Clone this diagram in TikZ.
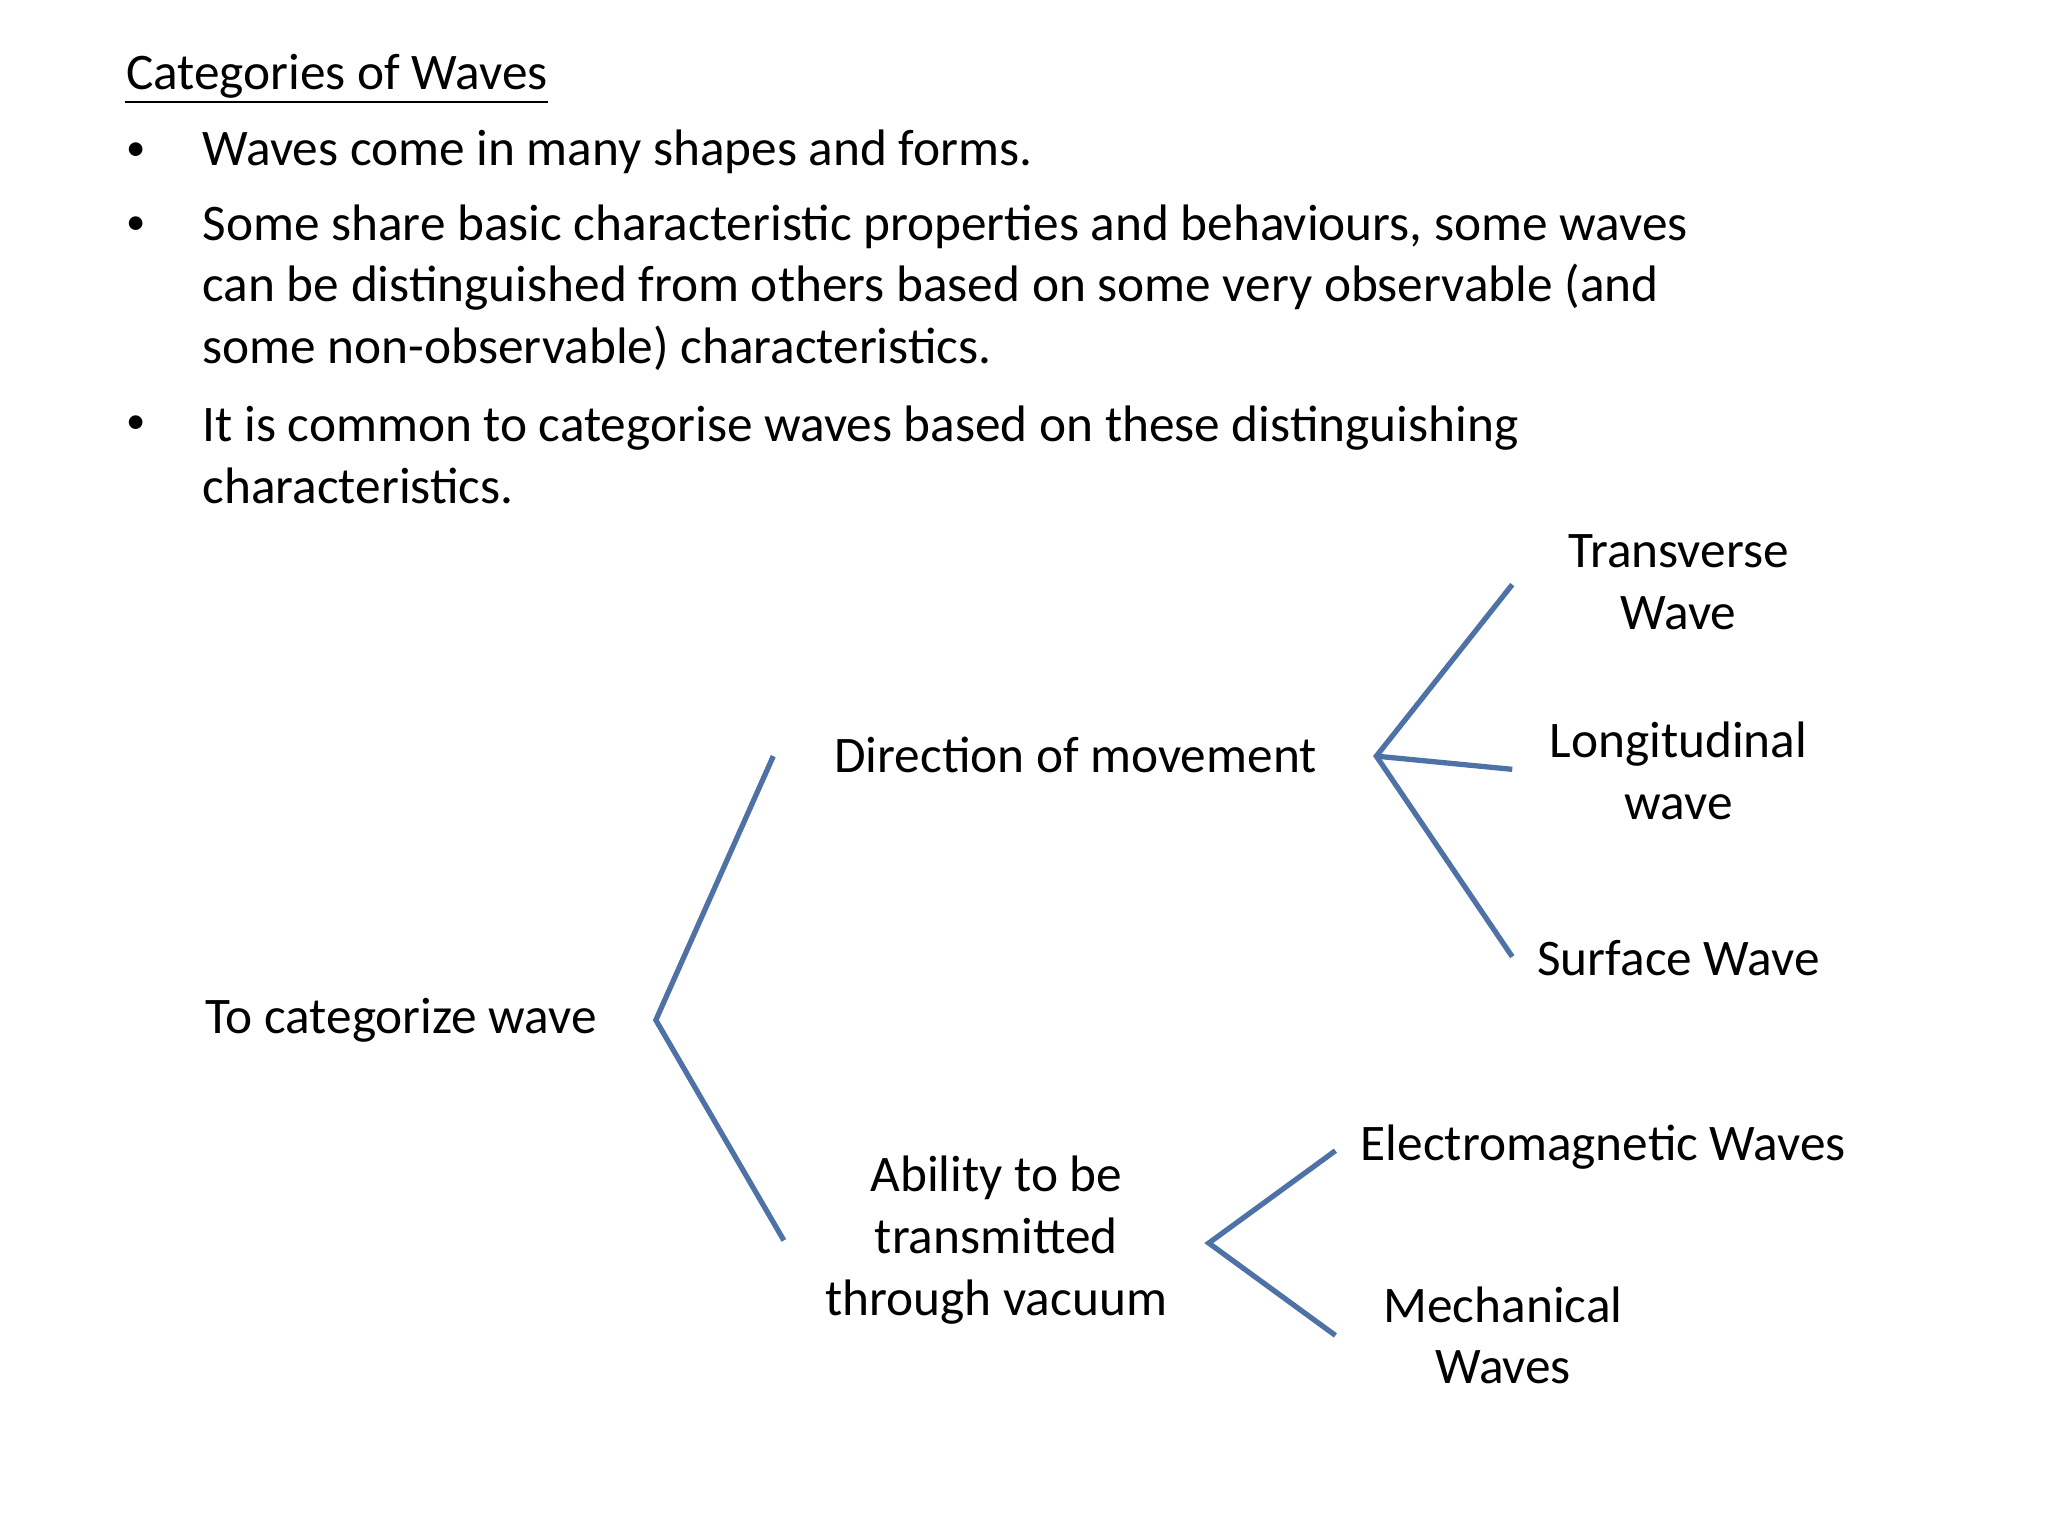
\documentclass[tikz,border=0pt]{standalone}
\usepackage{fontspec}
\setmainfont{Carlito}
\begin{document}
\begin{tikzpicture}[x=0.013196cm,y=-0.013196cm,
  txt/.style={inner sep=0pt,font=\fontsize{14.6}{17.6}\selectfont},
  lft/.style={txt,anchor=west},
  ctr/.style={txt,align=center}]
\definecolor{brc}{RGB}{79,114,166}
\tikzset{br/.style={draw=brc,line width=1.5pt}}
\useasboundingbox[fill=white] (0,0) rectangle (1552,1164);
\node[lft] (title) at (95,58) {Categories of Waves};
\draw[line width=0.6pt] ([yshift=-3.5pt]title.base west) -- ([yshift=-3.5pt]title.base east);
\node[lft,font=\fontsize{11}{13}\selectfont] (b1) at (95,115) {•};
\node[lft] (t1) at (153,115) {Waves come in many shapes and forms.};
\node[lft,font=\fontsize{11}{13}\selectfont] (b2) at (95,171) {•};
\node[txt,anchor=west,align=left] (t2) at (153,218) {Some share basic characteristic properties and behaviours, some waves\\can be distinguished from others based on some very observable (and\\some non-observable) characteristics.};
\node[lft,font=\fontsize{11}{13}\selectfont] (b3) at (95,322) {•};
\node[txt,anchor=west,align=left] (t3) at (153,345) {It is common to categorise waves based on these distinguishing\\characteristics.};
\node[ctr] (root) at (304,773) {To categorize wave};
\node[ctr] (dir) at (815,572) {Direction of movement};
\node[ctr] (abl) at (755,940) {Ability to be\\transmitted\\through vacuum};
\node[ctr] (tw) at (1272,441) {Transverse\\Wave};
\node[ctr] (lw) at (1272,584) {Longitudinal\\wave};
\node[ctr] (sw) at (1272,726) {Surface Wave};
\node[ctr] (em) at (1215,869) {Electromagnetic Waves};
\node[ctr] (mw) at (1139,1012) {Mechanical\\Waves};
\coordinate (r0) at (497,773);
\coordinate (r1) at (586,573);
\coordinate (r2) at (594,940);
\coordinate (d0) at (1043,573);
\coordinate (d1) at (1146,443);
\coordinate (d2) at (1146,583);
\coordinate (d3) at (1146,725);
\coordinate (a0) at (916,942);
\coordinate (a1) at (1012,872);
\coordinate (a2) at (1012,1012);
\draw[br] (r1) -- (r0) -- (r2);
\draw[br] (d1) -- (d0) -- (d3);
\draw[br] (d0) -- (d2);
\draw[br] (a1) -- (a0) -- (a2);
\end{tikzpicture}
\end{document}
